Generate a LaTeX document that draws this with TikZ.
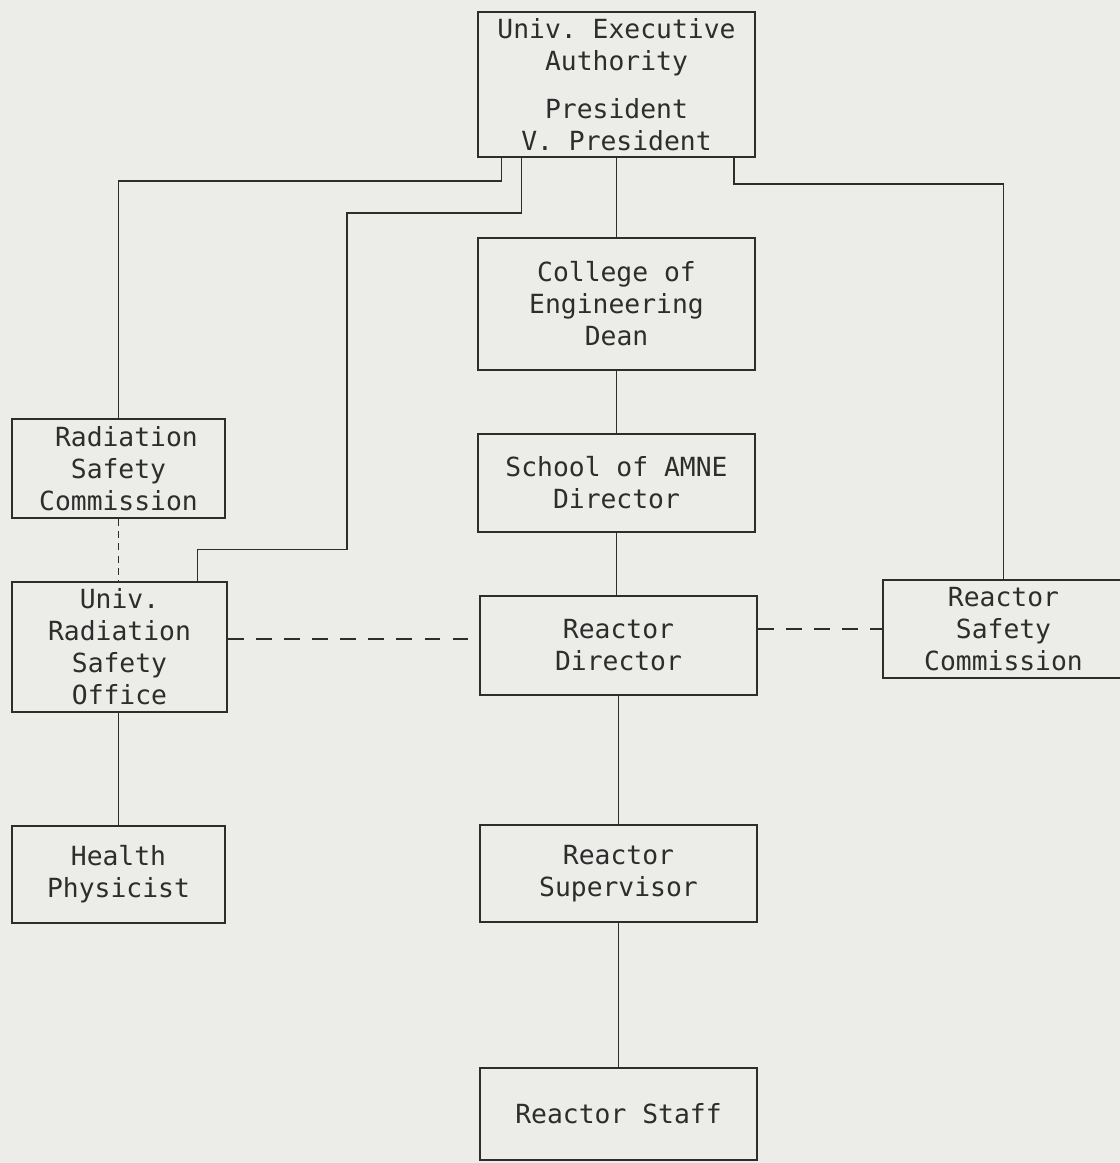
\documentclass[tikz,border=0pt]{standalone}
\usepackage{fontspec}
\setmonofont{DejaVu Sans Mono}
\usetikzlibrary{calc}

\definecolor{paper}{RGB}{236,236,233}
\definecolor{ink}{RGB}{45,45,45}

\begin{document}
\begin{tikzpicture}[x=0.2mm,y=-0.2mm,
    box/.style={draw=ink, line width=0.8pt, text=ink, align=center, inner sep=0pt,
      font=\ttfamily\fontsize{15}{18.2}\selectfont},
    link/.style={draw=ink, line width=0.9pt},
    dashlink/.style={link, dash pattern=on 9pt off 7pt}]
    % Paper
    \fill[paper] (0,0) rectangle (1120,1163);
    \useasboundingbox (0,0) rectangle (1120,1163);

    % Main line
    \node[box, minimum width=55.4mm, minimum height=29mm] (exec) at (616.5,84.5)
        {Univ. Executive\\Authority\\[9pt]President\\V. President};
    \node[box, minimum width=55.4mm, minimum height=26.4mm] (college) at (616.5,304)
        {College of\\Engineering\\Dean};
    \node[box, minimum width=55.4mm, minimum height=19.6mm] (school) at (616.5,483)
        {School of AMNE\\Director};
    \node[box, minimum width=55.4mm, minimum height=19.8mm] (rdir) at (618.5,645.5)
        {Reactor\\Director};
    \node[box, minimum width=55.4mm, minimum height=19.4mm] (rsup) at (618.5,873.5)
        {Reactor\\Supervisor};
    \node[box, minimum width=55.4mm, minimum height=18.4mm] (staff) at (618.5,1114)
        {Reactor Staff};

    % Radiation side
    \node[box, minimum width=42.6mm, minimum height=19.8mm] (radc) at (118.5,468.5)
        {\ Radiation\\Safety\\Commission};
    \node[box, minimum width=43mm, minimum height=26mm] (urso) at (119.5,647)
        {Univ.\\Radiation\\Safety\\Office};
    \node[box, minimum width=42.6mm, minimum height=19.4mm] (hp) at (118.5,874.5)
        {Health\\Physicist};

    % Reactor safety
    \node[box, minimum width=48.2mm, minimum height=19.6mm] (rsc) at (1003.5,629)
        {Reactor\\Safety\\Commission};

    % Solid lines
    \draw[link] (exec) -- (college);
    \draw[link] (college) -- (school);
    \draw[link] (school) -- (rdir.north -| school.south);
    \draw[link] (rdir) -- (rsup);
    \draw[link] (rsup) -- (staff);
    \draw[link] (urso.south -| radc.south) -- (hp);
    \draw[link] ($(exec.south west)+(24,0)$) -- ++(0,23) -| (radc.north);
    \draw[link] ($(exec.south west)+(44,0)$) |- (347,213) |- ($(urso.north)+(78,-32)$)
        -- ($(urso.north)+(78,0)$);
    \draw[link] ($(exec.south east)+(-22,0)$) -- ++(0,26) -| (rsc.north);

    % Dashed lines
    \draw[link, dash pattern=on 4pt off 3pt] (radc.south) -- (radc.south |- urso.north);
    \draw[dashlink] ($(urso.east)+(0,-8)$) -- ($(urso.east -| rdir.west)+(0,-8)$);
    \draw[dashlink] (rsc.west -| rdir.east) -- (rsc.west);
\end{tikzpicture}
\end{document}
